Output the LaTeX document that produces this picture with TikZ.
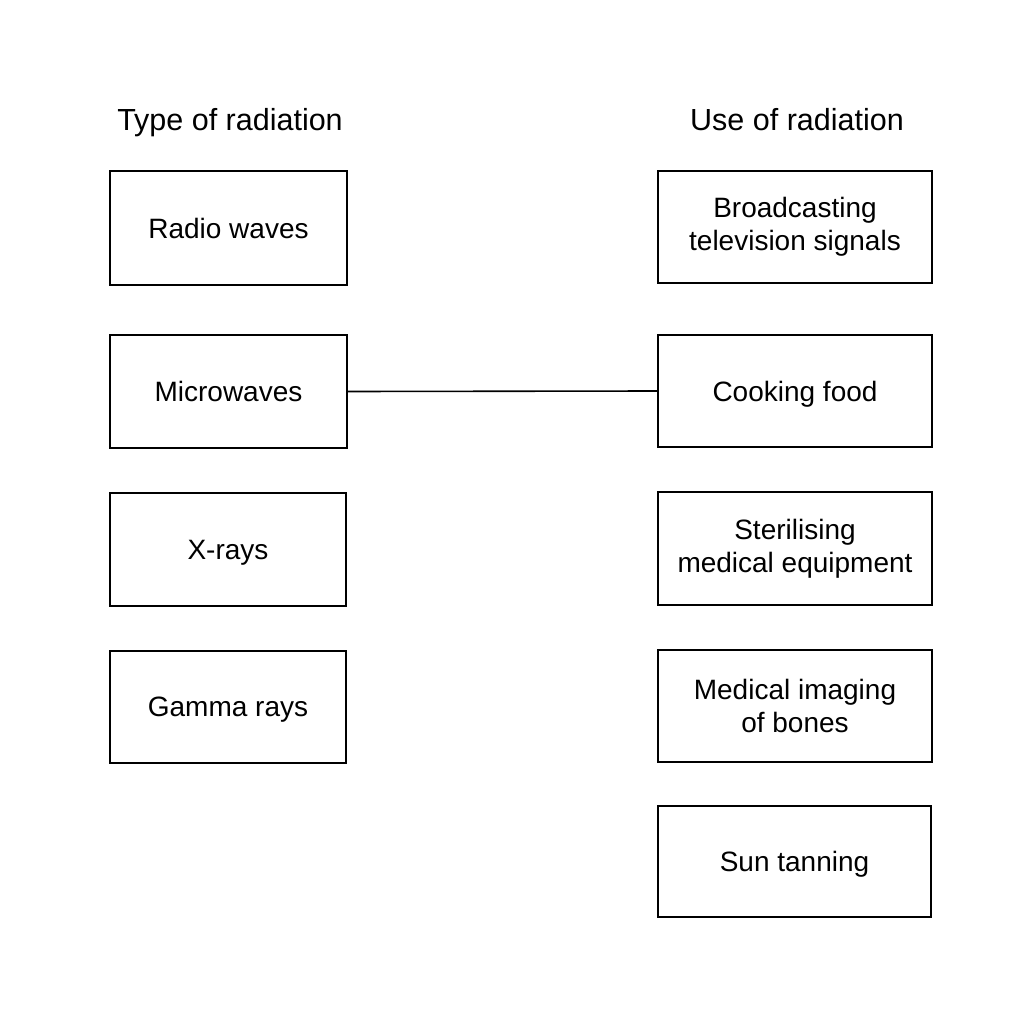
\documentclass[tikz,border=0pt]{standalone}
\usepackage{fontspec}
\setmainfont{Liberation Sans}
\begin{document}
\begin{tikzpicture}[x=1pt,y=-1pt,
  box/.style={draw=black,line width=1.8pt,inner sep=0pt,align=center,font=\fontsize{28}{33}\selectfont},
  single/.style={text depth=0pt},
  head/.style={inner sep=0pt,text depth=0pt,font=\fontsize{30.5}{34}\selectfont},
  link/.style={draw=black,line width=1.6pt}]
\useasboundingbox[fill=white] (0,0) rectangle (1024,1024);
\node[head] (h1) at (230,119) {Type of radiation};
\node[head] (h2) at (797,119) {Use of radiation};
\node[box,single,minimum width=237pt,minimum height=114pt] (radio) at (228.5,228) {Radio waves};
\node[box,single,minimum width=237pt,minimum height=113pt] (micro) at (228.5,391.5) {Microwaves};
\node[box,single,minimum width=236pt,minimum height=113pt] (xray) at (228,549.5) {X-rays};
\node[box,single,minimum width=236pt,minimum height=112pt] (gamma) at (228,707) {Gamma rays};
\node[box,minimum width=274pt,minimum height=112pt] (broad) at (795,227) {Broadcasting\\television signals};
\node[box,single,minimum width=274pt,minimum height=112pt] (cook) at (795,391) {Cooking food};
\node[box,minimum width=274pt,minimum height=113pt] (steril) at (795,548.5) {Sterilising\\medical equipment};
\node[box,minimum width=274pt,minimum height=112pt] (imaging) at (795,706) {Medical imaging\\of bones};
\node[box,single,minimum width=273pt,minimum height=111pt] (sun) at (794.5,861.5) {Sun tanning};
\draw[link] (micro.east) -- (cook.west);
\end{tikzpicture}
\end{document}
